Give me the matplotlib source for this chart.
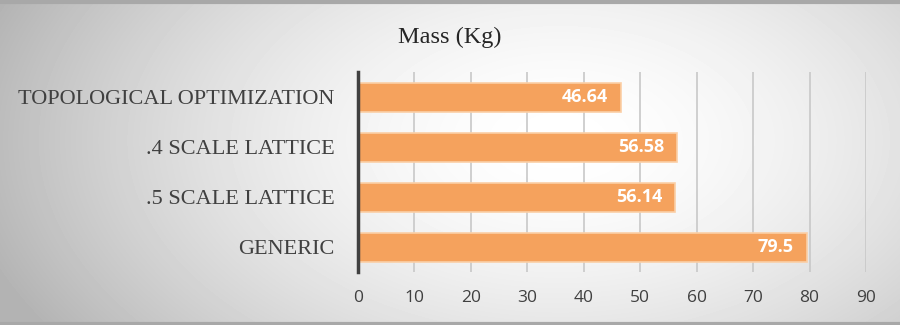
import numpy as np
import matplotlib.pyplot as plt

# Datos
categories = ["GENERIC", ".5 SCALE LATTICE", ".4 SCALE LATTICE", "TOPOLOGICAL OPTIMIZATION"]
mass = [79.5, 56.14, 56.58, 46.64]
value_labels = ["79.5", "56.14", "56.58", "46.64"]
xticks = [0, 10, 20, 30, 40, 50, 60, 70, 80, 90]

fig = plt.figure(figsize=(9, 3.25), dpi=100)

# fondo con degradado radial
bg = fig.add_axes([0, 0, 1, 1])
yy, xx = np.mgrid[0:325, 0:900]
r = np.sqrt(((xx - 560) / 560.0) ** 2 + ((yy - 140) / 330.0) ** 2)
shade = 1.0 - 0.26 * np.clip(r, 0, 1.2) ** 1.7
shade = np.clip(shade, 0.7, 1.0)
bg.imshow(shade, cmap="gray", vmin=0, vmax=1, aspect="auto", extent=[0, 900, 325, 0])
bg.plot([0, 900], [1.5, 1.5], color="#a8a8a8", lw=3)
bg.plot([0, 900], [323.5, 323.5], color="#a8a8a8", lw=3)
bg.set_xlim(0, 900)
bg.set_ylim(325, 0)
bg.axis("off")

ax = fig.add_axes([358 / 900, 1 - 272 / 325, 508 / 900, 200 / 325])
ax.patch.set_alpha(0)
y = np.arange(len(categories))
ax.barh(y, mass, height=0.58, color="#F5A25D", edgecolor="#FBCFA6", linewidth=1.2, zorder=3)
for yi, v, t in zip(y, mass, value_labels):
    ax.text(v - 2.3, yi, t, ha="right", va="center", color="white",
            fontsize=13, fontweight="bold", family="Open Sans", zorder=4)

ax.set_xlim(0, 90)
ax.set_ylim(-0.5, 3.5)
ax.set_xticks(xticks)
ax.set_xticklabels([str(t) for t in xticks], family="Open Sans", fontsize=12.5, color="#404040")
ax.set_yticks(y)
ax.set_yticklabels(categories, family="Liberation Serif", fontsize=16, color="#404040")
ax.tick_params(axis="both", length=0)
ax.tick_params(axis="x", pad=13)
ax.tick_params(axis="y", pad=17)
ax.grid(axis="x", color="#c8c8c8", lw=1.2, zorder=0)
for s in ["top", "right", "bottom"]:
    ax.spines[s].set_visible(False)
ax.spines["left"].set_color("#404040")
ax.spines["left"].set_linewidth(2.5)
ax.spines["left"].set_zorder(5)

fig.text(450 / 900, 1 - 37 / 325, "Mass (Kg)", ha="center", va="center",
         family="Liberation Serif", fontsize=17.5, color="#262626")

fig.savefig("out.png", dpi=100)
